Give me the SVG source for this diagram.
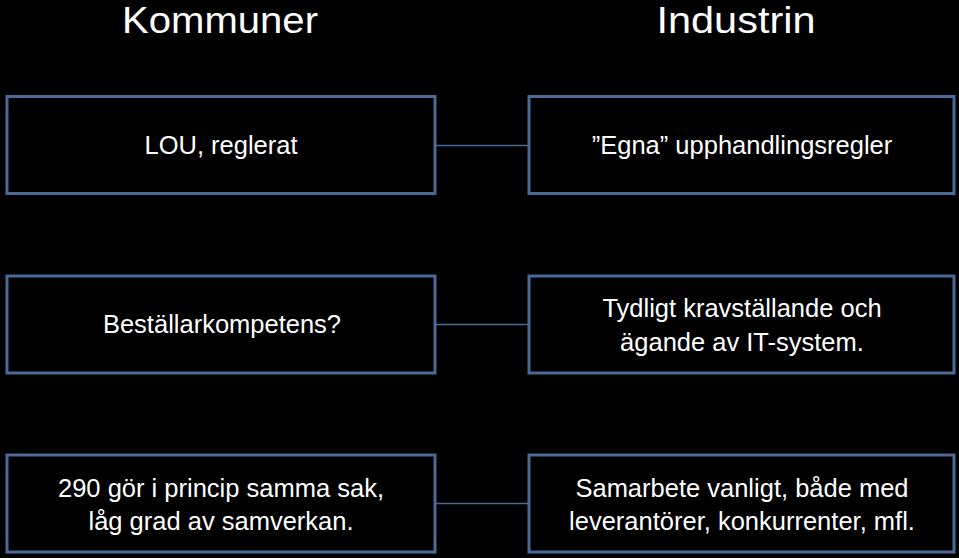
<svg xmlns="http://www.w3.org/2000/svg" width="959" height="558" viewBox="0 0 959 558">
<style>
.box{fill:#000;stroke:#4A6A98;stroke-width:3}
.con{stroke:#4A6A98;stroke-width:1.6;fill:none}
.t{font-family:"Liberation Sans",Arial,sans-serif;font-size:25.5px;fill:#fff;text-anchor:middle}
.h{font-family:"Liberation Sans",Arial,sans-serif;font-size:37px;fill:#fff;text-anchor:middle}
</style>
<rect width="959" height="558" fill="#000"/>
<g id="title-kommuner"><text class="h" x="220" y="33" textLength="196" lengthAdjust="spacingAndGlyphs">Kommuner</text></g>
<g id="title-industrin"><text class="h" x="736" y="33" textLength="159" lengthAdjust="spacingAndGlyphs">Industrin</text></g>
<g id="connectors">
<line class="con" x1="435" y1="145.5" x2="529" y2="145.5"/>
<line class="con" x1="435" y1="324.5" x2="529" y2="324.5"/>
<line class="con" x1="435" y1="503.5" x2="529" y2="503.5"/>
</g>
<g id="k1"><rect class="box" x="7" y="96.5" width="428" height="97"/><text class="t" x="221" y="154">LOU, reglerat</text></g>
<g id="i1"><rect class="box" x="529" y="96.5" width="425" height="97"/><text class="t" x="742" y="154">”Egna” upphandlingsregler</text></g>
<g id="k2"><rect class="box" x="7" y="276" width="428" height="97"/><text class="t" x="222" y="333">Beställarkompetens?</text></g>
<g id="i2"><rect class="box" x="529" y="276" width="425" height="97"/><text class="t" x="742" y="317">Tydligt kravställande och</text><text class="t" x="742" y="351">ägande av IT-system.</text></g>
<g id="k3"><rect class="box" x="7" y="455" width="428" height="97"/><text class="t" x="221" y="497">290 gör i princip samma sak,</text><text class="t" x="221" y="530">låg grad av samverkan.</text></g>
<g id="i3"><rect class="box" x="529" y="455" width="425" height="97"/><text class="t" x="742" y="497">Samarbete vanligt, både med</text><text class="t" x="742" y="530">leverantörer, konkurrenter, mfl.</text></g>
</svg>
